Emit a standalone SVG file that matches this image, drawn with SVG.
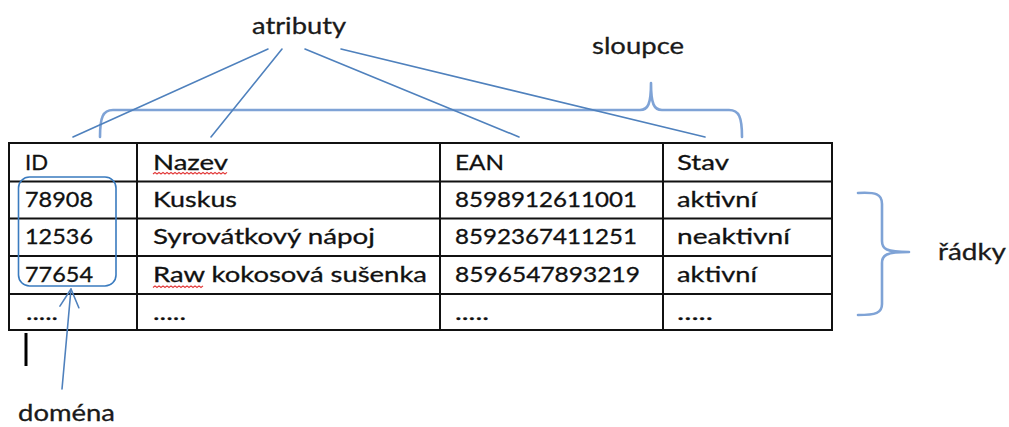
<svg xmlns="http://www.w3.org/2000/svg" width="1009" height="427" viewBox="0 0 1009 427">
  <style>
    .cell { font-family: "Lato", "Liberation Sans", sans-serif; font-size: 22px; fill: #111; stroke: #111; stroke-width: 0.3; }
    .label { font-family: "Lato", "Liberation Sans", sans-serif; font-size: 23px; fill: #1a1a1a; stroke: #1a1a1a; stroke-width: 0.3; }
    .grid { stroke: #111; stroke-width: 2; fill: none; }
    .conn { stroke: #4f81bd; stroke-width: 1.6; fill: none; stroke-linecap: round; }
    .brace { stroke: #7fa3d6; stroke-width: 2.6; fill: none; stroke-linecap: round; stroke-linejoin: round; }
    .spell { stroke: #e23b3b; stroke-width: 1.2; fill: none; }
  </style>
  <defs>
    <marker id="openArrow" viewBox="-20 -11 22 22" refX="0" refY="0" markerWidth="22" markerHeight="22" markerUnits="userSpaceOnUse" orient="auto">
      <path d="M-18,-9.5 L0,0 L-18,9.5" fill="none" stroke="#4f81bd" stroke-width="1.6" stroke-linecap="round" stroke-linejoin="round"/>
    </marker>
  </defs>
  <rect width="1009" height="427" fill="#ffffff"/>

  <!-- table grid -->
  <g id="table">
    <rect class="grid" x="9" y="143" width="823" height="187"/>
    <line class="grid" x1="137" y1="143" x2="137" y2="330"/>
    <line class="grid" x1="440" y1="143" x2="440" y2="330"/>
    <line class="grid" x1="663" y1="143" x2="663" y2="330"/>
    <line class="grid" x1="9" y1="181.5" x2="832" y2="181.5"/>
    <line class="grid" x1="9" y1="218.5" x2="832" y2="218.5"/>
    <line class="grid" x1="9" y1="256" x2="832" y2="256"/>
    <line class="grid" x1="9" y1="294" x2="832" y2="294"/>

    <!-- header row -->
    <text class="cell" x="25" y="170" textLength="23" lengthAdjust="spacingAndGlyphs">ID</text>
    <text class="cell" x="153" y="170" textLength="75" lengthAdjust="spacingAndGlyphs">Nazev</text>
    <text class="cell" x="455" y="170" textLength="49" lengthAdjust="spacingAndGlyphs">EAN</text>
    <text class="cell" x="677" y="170" textLength="52" lengthAdjust="spacingAndGlyphs">Stav</text>

    <!-- row 1 -->
    <text class="cell" x="25" y="207" textLength="68" lengthAdjust="spacingAndGlyphs">78908</text>
    <text class="cell" x="153" y="207" textLength="84" lengthAdjust="spacingAndGlyphs">Kuskus</text>
    <text class="cell" x="455" y="207" textLength="182" lengthAdjust="spacingAndGlyphs">8598912611001</text>
    <text class="cell" x="677" y="207" textLength="80" lengthAdjust="spacingAndGlyphs">aktivní</text>

    <!-- row 2 -->
    <text class="cell" x="25" y="244" textLength="68" lengthAdjust="spacingAndGlyphs">12536</text>
    <text class="cell" x="153" y="244" textLength="222" lengthAdjust="spacingAndGlyphs">Syrovátkový nápoj</text>
    <text class="cell" x="455" y="244" textLength="182" lengthAdjust="spacingAndGlyphs">8592367411251</text>
    <text class="cell" x="677" y="244" textLength="113" lengthAdjust="spacingAndGlyphs">neaktivní</text>

    <!-- row 3 -->
    <text class="cell" x="25" y="281.5" textLength="68" lengthAdjust="spacingAndGlyphs">77654</text>
    <text class="cell" x="153" y="281.5" textLength="274" lengthAdjust="spacingAndGlyphs">Raw kokosová sušenka</text>
    <text class="cell" x="455" y="281.5" textLength="185" lengthAdjust="spacingAndGlyphs">8596547893219</text>
    <text class="cell" x="677" y="281.5" textLength="80" lengthAdjust="spacingAndGlyphs">aktivní</text>

    <!-- row 4 -->
    <text class="cell" x="26" y="320" textLength="32" lengthAdjust="spacingAndGlyphs">.....</text>
    <text class="cell" x="153" y="320" textLength="33" lengthAdjust="spacingAndGlyphs">.....</text>
    <text class="cell" x="455" y="320" textLength="34" lengthAdjust="spacingAndGlyphs">.....</text>
    <text class="cell" x="677" y="320" textLength="36" lengthAdjust="spacingAndGlyphs">.....</text>

    <!-- spell-check squiggles -->
    <path class="spell" d="M153,174 l2,-1.6 l2,1.6 l2,-1.6 l2,1.6 l2,-1.6 l2,1.6 l2,-1.6 l2,1.6 l2,-1.6 l2,1.6 l2,-1.6 l2,1.6 l2,-1.6 l2,1.6 l2,-1.6 l2,1.6 l2,-1.6 l2,1.6 l2,-1.6 l2,1.6 l2,-1.6 l2,1.6 l2,-1.6 l2,1.6 l2,-1.6 l2,1.6 l2,-1.6 l2,1.6 l2,-1.6 l2,1.6 l2,-1.6 l2,1.6 l2,-1.6 l2,1.6 l2,-1.6 l2,1.6 l2,-1.6"/>
    <path class="spell" d="M153,287.5 l2,-1.6 l2,1.6 l2,-1.6 l2,1.6 l2,-1.6 l2,1.6 l2,-1.6 l2,1.6 l2,-1.6 l2,1.6 l2,-1.6 l2,1.6 l2,-1.6 l2,1.6 l2,-1.6 l2,1.6 l2,-1.6 l2,1.6 l2,-1.6 l2,1.6 l2,-1.6 l2,1.6 l2,-1.6 l2,1.6 l2,-1.6"/>

    <!-- text cursor below the table -->
    <line x1="26" y1="333" x2="26" y2="366" stroke="#000" stroke-width="3"/>
  </g>

  <!-- domain highlight around the ID values -->
  <g id="domain-box">
    <rect x="18.5" y="177" width="97.5" height="109" rx="11" ry="11" fill="none" stroke="#3a7bbf" stroke-width="1.6"/>
  </g>

  <!-- labels -->
  <g id="atributy">
    <text class="label" x="252" y="34" textLength="94" lengthAdjust="spacingAndGlyphs">atributy</text>
  </g>
  <g id="sloupce">
    <text class="label" x="592" y="54" textLength="92" lengthAdjust="spacingAndGlyphs">sloupce</text>
  </g>
  <g id="radky">
    <text class="label" x="938" y="260" textLength="68" lengthAdjust="spacingAndGlyphs">řádky</text>
  </g>
  <g id="domena">
    <text class="label" x="18" y="421" textLength="97" lengthAdjust="spacingAndGlyphs">doména</text>
  </g>

  <!-- braces -->
  <g id="braces">
    <path class="brace" d="M100,137 C100,117 103,110 113,110 L640,110 C648,110 651,104 651,83 C651,104 654,110 662,110 L729,110 C739,110 742,117 742,137"/>
    <path class="brace" d="M858,193 C876,192 882,194 882,204 L882,241 C882,249 886,252 909,252 C886,252 882,255 882,263 L882,304 C882,313 876,315 858,315"/>
  </g>

  <!-- connectors -->
  <g id="connectors">
    <line class="conn" x1="268" y1="49" x2="73" y2="137"/>
    <line class="conn" x1="282" y1="49" x2="211" y2="137"/>
    <line class="conn" x1="305" y1="49" x2="519" y2="137"/>
    <line class="conn" x1="341" y1="49" x2="705" y2="137"/>
    <line class="conn" x1="62" y1="389" x2="71" y2="289" marker-end="url(#openArrow)"/>
  </g>
</svg>
